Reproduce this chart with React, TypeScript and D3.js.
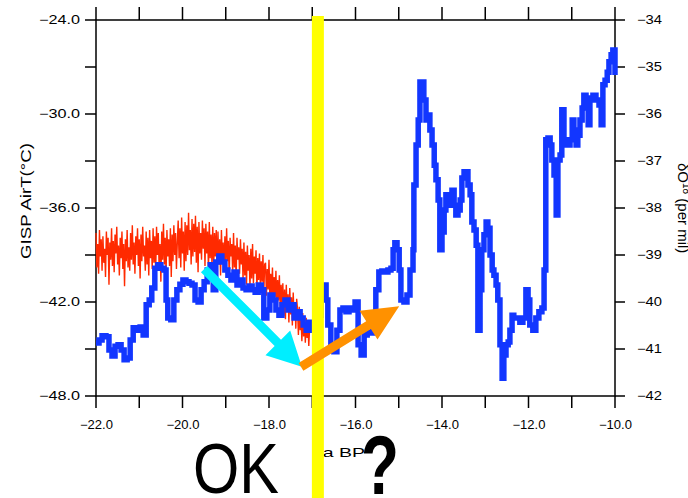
import React from "react";
import * as d3 from "d3";

// ---- Data ----
// Blue series: GISP2 δ18O (per mil), plotted on the right axis
const blueAge = [
  -22.0, -21.93, -21.86, -21.77, -21.7, -21.63, -21.56, -21.49, -21.42, -21.35, -21.28, -21.21, -21.14, -21.05, -20.98, -20.91,
  -20.84, -20.77, -20.71, -20.64, -20.57, -20.5, -20.43, -20.38, -20.34, -20.27, -20.2, -20.13, -20.06, -19.99, -19.92, -19.85,
  -19.78, -19.71, -19.64, -19.57, -19.5, -19.43, -19.36, -19.29, -19.23, -19.16, -19.09, -19.02, -18.95, -18.88, -18.81, -18.74,
  -18.67, -18.6, -18.53, -18.46, -18.39, -18.32, -18.25, -18.18, -18.12, -18.05, -17.98, -17.91, -17.84, -17.77, -17.7, -17.63,
  -17.56, -17.49, -17.42, -17.35, -17.28, -17.21, -17.14, -17.08, -17.01, -16.94, -16.87, -16.8, -16.73, -16.68, -16.64, -16.57,
  -16.5, -16.43, -16.36, -16.29, -16.22, -16.15, -16.08, -16.01, -15.94, -15.87, -15.8, -15.73, -15.66, -15.6, -15.53, -15.46,
  -15.39, -15.32, -15.25, -15.18, -15.13, -15.09, -15.04, -14.99, -14.95, -14.88, -14.81, -14.74, -14.67, -14.65, -14.6, -14.55,
  -14.51, -14.46, -14.42, -14.37, -14.32, -14.28, -14.23, -14.18, -14.14, -14.09, -14.05, -14.0, -13.95, -13.91, -13.86, -13.82,
  -13.77, -13.72, -13.68, -13.63, -13.58, -13.54, -13.49, -13.45, -13.4, -13.35, -13.31, -13.26, -13.21, -13.17, -13.12, -13.08,
  -13.03, -12.98, -12.94, -12.89, -12.84, -12.8, -12.75, -12.71, -12.66, -12.61, -12.57, -12.52, -12.47, -12.43, -12.38, -12.34,
  -12.27, -12.2, -12.13, -12.06, -12.01, -11.97, -11.9, -11.83, -11.76, -11.69, -11.64, -11.6, -11.55, -11.5, -11.46, -11.41,
  -11.36, -11.32, -11.27, -11.23, -11.18, -11.11, -11.04, -10.99, -10.95, -10.9, -10.86, -10.81, -10.76, -10.72, -10.67, -10.62,
  -10.58, -10.51, -10.44, -10.37, -10.32, -10.28, -10.23, -10.18, -10.14, -10.09, -10.05, -10.0,
];
const blueD18O = [
  -40.87, -40.81, -40.72, -40.74, -41.02, -41.15, -40.94, -40.91, -41.02, -41.23, -41.19, -40.81, -40.55, -40.6, -40.53, -40.7,
  -40.06, -39.96, -39.7, -39.28, -39.21, -39.28, -39.32, -39.96, -40.34, -40.38, -39.96, -39.74, -39.62, -39.53, -39.57, -39.6,
  -39.64, -39.96, -40.0, -39.74, -39.57, -39.32, -39.21, -39.74, -39.15, -39.02, -39.15, -39.32, -39.43, -39.53, -39.36, -39.64,
  -39.53, -39.7, -39.74, -39.66, -39.74, -39.79, -39.64, -39.74, -40.34, -40.17, -39.85, -39.96, -40.17, -40.28, -40.06, -39.96,
  -40.17, -40.06, -40.34, -40.21, -40.34, -40.49, -40.6, -40.43, -40.6, -40.38, -40.28, -39.96, -39.64, -39.96, -40.49, -40.91,
  -41.06, -40.6, -40.17, -40.13, -40.21, -40.13, -40.17, -40.0, -40.91, -41.13, -40.7, -40.64, -40.66, -40.6, -39.74, -39.36,
  -39.34, -39.36, -39.32, -39.28, -38.89, -38.74, -38.89, -39.32, -39.96, -40.0, -39.85, -39.32, -38.89, -37.51, -36.66, -36.13,
  -35.32, -35.32, -35.7, -36.13, -36.02, -36.34, -36.66, -37.09, -37.4, -37.83, -38.89, -38.51, -38.04, -37.72, -37.94, -37.79,
  -37.62, -37.94, -38.15, -38.04, -37.83, -37.36, -37.23, -37.23, -37.51, -37.72, -38.3, -38.47, -38.79, -40.6, -39.74, -38.89,
  -38.57, -38.3, -38.43, -39.0, -39.32, -39.43, -39.64, -39.96, -40.91, -41.62, -41.13, -40.91, -40.85, -40.6, -40.28, -40.34,
  -40.34, -40.43, -40.34, -39.74, -39.96, -40.49, -40.6, -40.34, -40.21, -40.13, -39.32, -36.55, -36.51, -36.66, -36.98, -37.3,
  -38.15, -36.98, -36.87, -35.91, -36.55, -36.66, -36.55, -36.13, -36.34, -36.66, -36.45, -36.13, -35.87, -35.6, -35.66, -36.23,
  -35.7, -35.6, -35.7, -35.81, -36.23, -35.38, -35.28, -35.11, -34.89, -34.74, -34.64, -35.17,
];

// Red series: GISP air temperature (°C), left axis, regular 0.02 ka sampling from -22.0 ka
const redStartAge = -22.0;
const redStep = 0.02;
const redAirT = [
  -37.6, -39.8, -38.3, -40.2, -37.4, -39.1, -38.0, -40.0, -37.8, -39.5,
  -38.6, -40.4, -37.5, -39.0, -37.9, -40.9, -38.2, -39.3, -37.3, -39.7,
  -38.1, -40.1, -37.7, -38.9, -37.2, -39.6, -38.4, -40.3, -37.9, -39.2,
  -37.5, -39.9, -38.3, -41.0, -38.0, -39.4, -37.4, -39.8, -38.5, -40.0,
  -37.6, -39.3, -37.1, -39.6, -38.2, -40.2, -37.8, -39.0, -37.3, -39.7,
  -38.0, -40.5, -37.7, -39.4, -37.2, -39.1, -38.4, -40.0, -37.5, -39.6,
  -37.9, -40.3, -37.4, -39.2, -38.1, -39.9, -37.3, -39.5, -37.8, -40.1,
  -37.2, -39.0, -37.6, -39.8, -38.3, -40.7, -37.5, -39.3, -37.0, -39.6,
  -37.9, -40.2, -37.4, -39.1, -38.0, -39.7, -37.3, -40.4, -37.7, -39.4,
  -37.1, -39.0, -37.6, -39.9, -38.2,
  -36.8, -39.2, -37.3, -39.8, -36.6, -38.9, -37.5, -40.0, -36.9, -39.4,
  -37.1, -39.0, -36.3, -38.7, -37.4, -39.6, -36.7, -39.1, -37.0, -38.8,
  -36.5, -39.5, -37.2, -40.1, -36.9, -38.9, -37.6, -39.3, -36.8, -38.6,
  -37.3, -39.7, -37.0, -38.9, -37.5, -39.9, -36.9, -39.2, -37.7, -39.5,
  -37.2, -39.8, -37.6, -39.1, -37.4, -40.2,
  -37.5, -39.6, -38.0, -40.3, -37.4, -39.2, -38.2, -40.0, -37.8, -39.7,
  -37.3, -39.4, -38.1, -40.4, -37.9, -39.1, -38.3, -40.1, -37.6, -39.8,
  -38.4, -40.5, -37.9, -39.3, -38.5, -40.2, -38.0, -39.6, -38.6, -40.6,
  -38.2, -40.3, -38.8, -40.9, -38.4, -40.0, -39.0, -41.1, -38.6, -40.5,
  -38.3, -40.8, -39.1, -40.2, -38.7, -41.3, -39.2, -40.6, -38.9, -41.0,
  -39.4, -40.7, -39.0, -41.4, -39.6,
  -39.5, -41.6, -39.9, -41.2, -39.3, -41.8, -40.2, -41.5, -39.8, -42.0,
  -40.4, -41.7, -40.0, -42.2, -40.6, -41.9, -40.3, -42.4, -40.9, -42.1,
  -40.8, -42.9, -41.2, -43.1, -40.9, -42.6, -41.5, -43.3, -41.1, -42.8,
  -41.7, -43.5, -41.4, -43.0, -42.0, -43.7, -41.8,
  -42.5, -44.1, -42.3, -43.8, -42.9, -44.5, -42.7, -44.2, -43.1, -44.6,
  -43.0, -44.3, -43.4, -44.8, -43.6,
];

// Axis ticks
const xTicksMajor = [-22, -20, -18, -16, -14, -12, -10];
const xTicksMinor = [-22, -21, -20, -19, -18, -17, -16, -15, -14, -13, -12, -11, -10];
const leftTicksMajor = [-24, -30, -36, -42, -48];
const leftTicksAll = [-24, -27, -30, -33, -36, -39, -42, -45, -48];
const rightTicks = [-34, -35, -36, -37, -38, -39, -40, -41, -42];

// Annotations (age ka, δ18O)
const markerAge = -16.87;
const cyanArrow = { from: [-19.5, -39.3], to: [-17.24, -41.38] };
const orangeArrow = { from: [-17.26, -41.38], to: [-14.99, -40.09] };

const W = 688;
const H = 498;
const M = { left: 96, right: 615, top: 20, bottom: 396 };

function arrowPolygon(x1: number, y1: number, x2: number, y2: number, shaftW: number, headL: number, headHalf: number) {
  const dx = x2 - x1, dy = y2 - y1;
  const len = Math.hypot(dx, dy);
  const ux = dx / len, uy = dy / len;
  const px = -uy, py = ux;
  const bx = x2 - ux * headL, by = y2 - uy * headL;
  const s = shaftW / 2;
  const pts = [
    [x1 + px * s, y1 + py * s],
    [bx + px * s, by + py * s],
    [bx + px * headHalf, by + py * headHalf],
    [x2, y2],
    [bx - px * headHalf, by - py * headHalf],
    [bx - px * s, by - py * s],
    [x1 - px * s, y1 - py * s],
  ];
  return pts.map((p) => p.join(",")).join(" ");
}

export default function App() {
  const x = d3.scaleLinear().domain([-22, -10]).range([M.left, M.right]);
  const yL = d3.scaleLinear().domain([-48, -24]).range([M.bottom, M.top]);
  const yR = d3.scaleLinear().domain([-42, -34]).range([M.bottom, M.top]);

  const fmt1 = d3.format(".1f");
  const fmtI = d3.format("d");

  const blueData = blueAge.map((a, i) => [a, blueD18O[i]] as [number, number]);
  const redData = redAirT.map((v, i) => [redStartAge + i * redStep, v] as [number, number]);

  const blueLine = d3
    .line<[number, number]>()
    .x((d) => x(d[0]))
    .y((d) => yR(d[1]))
    .curve(d3.curveStepAfter);
  const redLine = d3
    .line<[number, number]>()
    .x((d) => x(d[0]))
    .y((d) => yL(d[1]));

  const font = "'Liberation Sans', Arial, Helvetica, sans-serif";
  const tickLen = 12;

  const cA = arrowPolygon(x(cyanArrow.from[0]), yR(cyanArrow.from[1]), x(cyanArrow.to[0]), yR(cyanArrow.to[1]), 9, 34, 17.5);
  const oA = arrowPolygon(x(orangeArrow.from[0]), yR(orangeArrow.from[1]), x(orangeArrow.to[0]), yR(orangeArrow.to[1]), 9, 36, 17);

  return (
    <svg
      width={W}
      height={H}
      viewBox={`0 0 ${W} ${H}`}
      style={{ position: "absolute", left: 0, top: 0, display: "block", background: "#fff" }}
      fontFamily={font}
    >
      <rect x={0} y={0} width={W} height={H} fill="#fff" />
      {/* frame */}
      <rect x={M.left} y={M.top} width={M.right - M.left} height={M.bottom - M.top} fill="none" stroke="#000" strokeWidth={1.5} />
      {/* bottom & top ticks */}
      {xTicksMinor.map((t) => (
        <g key={"xt" + t}>
          <line x1={x(t)} x2={x(t)} y1={M.bottom} y2={M.bottom + tickLen} stroke="#000" strokeWidth={1.5} />
          <line x1={x(t)} x2={x(t)} y1={M.top} y2={M.top - 13} stroke="#000" strokeWidth={1.5} />
        </g>
      ))}
      {xTicksMajor.map((t) => (
        <text key={"xl" + t} x={x(t) - 16} y={429} fontSize={12} textLength={33} lengthAdjust="spacingAndGlyphs" fill="#000">
          {fmt1(t)}
        </text>
      ))}
      {/* left ticks */}
      {leftTicksAll.map((t) => (
        <line key={"lt" + t} x1={M.left - 11} x2={M.left} y1={yL(t)} y2={yL(t)} stroke="#000" strokeWidth={1.5} />
      ))}
      {leftTicksMajor.map((t) => (
        <text key={"ll" + t} x={39} y={yL(t) + 4} fontSize={12} textLength={41} lengthAdjust="spacingAndGlyphs" fill="#000">
          {fmt1(t)}
        </text>
      ))}
      {/* right ticks */}
      {rightTicks.map((t) => (
        <g key={"rt" + t}>
          <line x1={M.right} x2={M.right + 10} y1={yR(t)} y2={yR(t)} stroke="#000" strokeWidth={1.5} />
          <text x={637} y={yR(t) + 4} fontSize={12} textLength={25} lengthAdjust="spacingAndGlyphs" fill="#000">
            {fmtI(t)}
          </text>
        </g>
      ))}
      {/* axis titles */}
      <text transform={`translate(31,201) rotate(-90)`} fontSize={15} textAnchor="middle" textLength={116} lengthAdjust="spacingAndGlyphs" fill="#000">
        GISP  AirT(°C)
      </text>
      <text transform={`translate(678,163) rotate(90)`} fontSize={15} textAnchor="start" fill="#000">
        δO<tspan dy={-5} fontSize={10}>18</tspan>
        <tspan dy={5}> (per mil)</tspan>
      </text>
      <text x={313} y={457} fontSize={13} textLength={52} lengthAdjust="spacingAndGlyphs" fill="#000">
        ka BP
      </text>

      {/* data */}
      <path d={redLine(redData) || ""} fill="none" stroke="#ff2a00" strokeWidth={1.4} strokeLinejoin="bevel" />
      <path d={blueLine(blueData) || ""} fill="none" stroke="#1236ff" strokeWidth={5.5} strokeLinejoin="miter" />

      {/* yellow marker */}
      <rect x={x(markerAge) - 6} y={16} width={12} height={H - 16} fill="#ffff00" />

      {/* arrows */}
      <polygon points={cA} fill="#00eeff" />
      <polygon points={oA} fill="#ff9100" />

      {/* annotations */}
      <text x={193} y={493} fontSize={71} textLength={86} lengthAdjust="spacingAndGlyphs" fill="#000">
        OK
      </text>
      <text x={361} y={494} fontSize={84} fontWeight="bold" textLength={38} lengthAdjust="spacingAndGlyphs" fill="#000">
        ?
      </text>
    </svg>
  );
}
